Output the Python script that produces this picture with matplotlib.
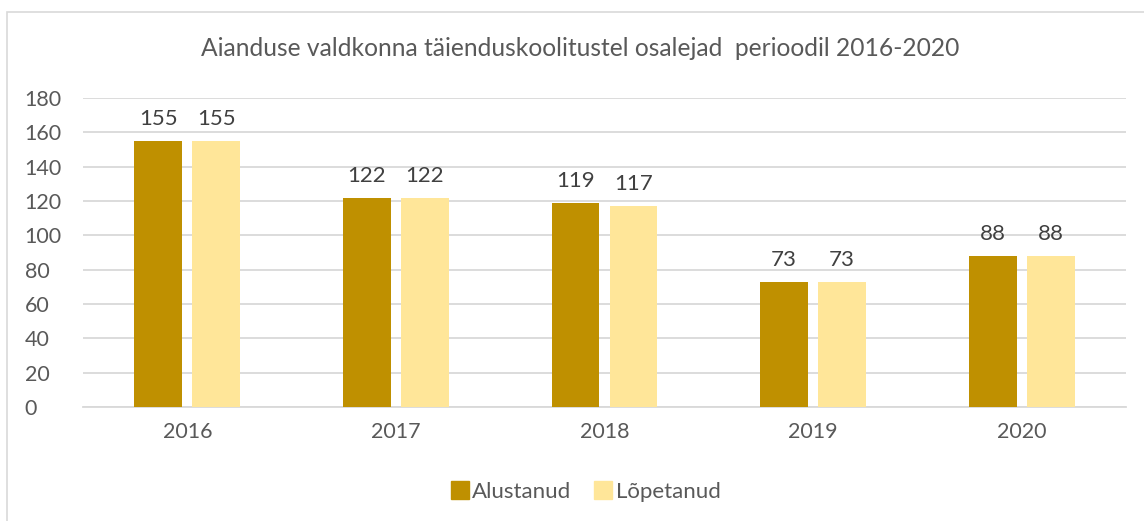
import matplotlib.pyplot as plt
import numpy as np
from matplotlib.lines import Line2D

# -----------------------------------------------------------------------------
# DATA
# -----------------------------------------------------------------------------
years = ['2016', '2017', '2018', '2019', '2020']
alustanud = [155, 122, 119, 73, 88]
lopetanud = [155, 122, 117, 73, 88]

DARK_GOLD = '#BF9000'
LIGHT_GOLD = '#FFE699'
TEXT_COLOR = '#595959'
GRID_COLOR = '#D9D9D9'

plt.rcParams['font.family'] = ['Lato', 'DejaVu Sans']

# -----------------------------------------------------------------------------
# FIGURE
# -----------------------------------------------------------------------------
fig = plt.figure(figsize=(11.44, 5.21), dpi=100)
ax = fig.add_axes([83 / 1144, 1 - 407 / 521, (1126 - 83) / 1144, (407 - 98) / 521])

x = np.arange(len(years))
bar_w = 0.23
offset = 0.139

b1 = ax.bar(x - offset, alustanud, width=bar_w, color=DARK_GOLD, zorder=3)
b2 = ax.bar(x + offset, lopetanud, width=bar_w, color=LIGHT_GOLD, zorder=3)

for bars in (b1, b2):
    for rect in bars:
        h = rect.get_height()
        ax.text(rect.get_x() + rect.get_width() / 2, h + 7, f"{h:.0f}",
                ha='center', va='bottom', fontsize=16, color='#404040')

ax.set_xlim(-0.5, len(years) - 0.5)
ax.set_ylim(0, 180)
ax.set_yticks(range(0, 181, 20))
ax.set_xticks(x)
ax.set_xticklabels(years)
ax.tick_params(axis='both', length=0, labelsize=15.5, labelcolor=TEXT_COLOR)
ax.tick_params(axis='x', pad=11)
ax.tick_params(axis='y', pad=42)
for lbl in ax.get_yticklabels():
    lbl.set_horizontalalignment('left')

ax.grid(axis='y', color=GRID_COLOR, linewidth=1.3, zorder=0)
for side in ('top', 'right', 'left'):
    ax.spines[side].set_visible(False)
ax.spines['bottom'].set_color(GRID_COLOR)
ax.spines['bottom'].set_linewidth(1.3)

fig.text(580 / 1144, 1 - 48 / 521,
         'Aianduse valdkonna täienduskoolitustel osalejad  perioodil 2016-2020',
         ha='center', va='center', fontsize=17.7, color=TEXT_COLOR)

# chart frame (only top and left edges fall inside the image)
frame = plt.Rectangle((7 / 1144, -0.1), 1.2, 1 - 12 / 521 + 0.1,
                      transform=fig.transFigure, fill=False,
                      edgecolor=GRID_COLOR, linewidth=1.2)
fig.add_artist(frame)

# -----------------------------------------------------------------------------
# LEGEND
# -----------------------------------------------------------------------------
handles = [
    Line2D([0], [0], marker='s', linestyle='None', markersize=13,
           markerfacecolor=DARK_GOLD, markeredgecolor=DARK_GOLD, label='Alustanud'),
    Line2D([0], [0], marker='s', linestyle='None', markersize=13,
           markerfacecolor=LIGHT_GOLD, markeredgecolor=LIGHT_GOLD, label='Lõpetanud'),
]
leg = fig.legend(handles=handles, loc='center', bbox_to_anchor=(585 / 1144, 1 - 492 / 521),
                 ncol=2, frameon=False, fontsize=16, handletextpad=0.1,
                 columnspacing=1.0, handlelength=0.9)
for t in leg.get_texts():
    t.set_color(TEXT_COLOR)

fig.savefig('out.png', dpi=100)
